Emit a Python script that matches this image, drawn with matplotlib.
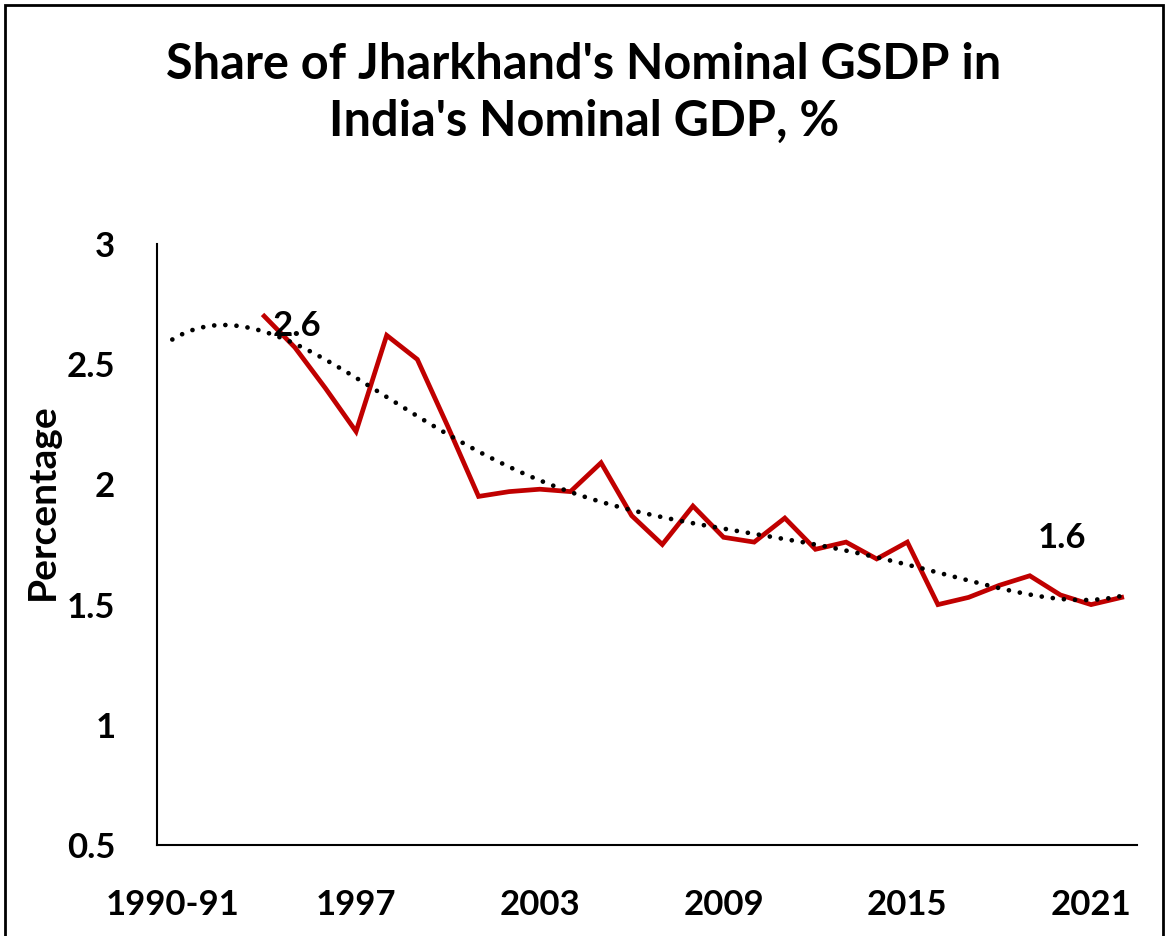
import numpy as np
import matplotlib
matplotlib.use("Agg")
import matplotlib.pyplot as plt
from matplotlib.patches import Rectangle

plt.rcParams['font.family'] = ['Lato', 'DejaVu Sans']
plt.rcParams['font.weight'] = 'bold'

# categories 1990-91 .. 2021-22, data starts in 1993-94
years = ["1990-91"] + [str(y) for y in range(1992, 2023)]
tick_pos = [0, 6, 12, 18, 24, 30]
tick_labels = ["1990-91", "1997", "2003", "2009", "2015", "2021"]

share = [None, None, None,
         2.70, 2.57, 2.40, 2.22, 2.62, 2.52, 2.24,
         1.95, 1.97, 1.98, 1.97, 2.09, 1.87, 1.75, 1.91,
         1.78, 1.76, 1.86, 1.73, 1.76, 1.69, 1.76,
         1.50, 1.53, 1.58, 1.62, 1.54, 1.50, 1.53]

idx = np.array([i for i, v in enumerate(share) if v is not None])
vals = np.array([v for v in share if v is not None])

# polynomial (order 5) trendline, drawn across the whole category range
coef = np.polyfit(idx, vals, 5)
xt = np.linspace(0, len(years) - 1, 300)
yt = np.polyval(coef, xt)

fig = plt.figure(figsize=(11.68, 9.36), dpi=100)
ax = fig.add_axes([157 / 1168, 1 - 845 / 936, (1137 - 157) / 1168, (845 - 244) / 936])

ax.plot(idx, vals, color="#C00000", lw=3.4, solid_joinstyle="miter", zorder=2)
ax.plot(xt, yt, color="black", lw=3.4, linestyle=(0, (0.01, 2.35)),
        dash_capstyle="round", zorder=3)

ax.annotate("2.6", xy=(idx[0], vals[0]), xytext=(6, -7), textcoords="offset points",
            ha="left", va="center", fontsize=25, fontweight="bold")
ax.annotate("1.6", xy=(28, share[28]), xytext=(23, 27), textcoords="offset points",
            ha="center", va="center", fontsize=25, fontweight="bold")

ax.set_xlim(-0.5, len(years) - 0.5)
ax.set_ylim(0.5, 3)
ax.set_xticks(tick_pos)
ax.set_xticklabels(tick_labels)
ax.set_yticks([0.5, 1, 1.5, 2, 2.5, 3])
ax.set_yticklabels(["0.5", "1", "1.5", "2", "2.5", "3"])
ax.tick_params(axis="both", length=0, labelsize=25)
ax.tick_params(axis="y", pad=30)
ax.tick_params(axis="x", pad=32)
for s in ["top", "right"]:
    ax.spines[s].set_visible(False)
for s in ["left", "bottom"]:
    ax.spines[s].set_linewidth(1.5)

fig.text(42 / 1168, 1 - 502 / 936, "Percentage", rotation=90, ha="center", va="center",
         fontsize=28, fontweight="bold")

fig.text(0.5, 1 - 93 / 936, "Share of Jharkhand's Nominal GSDP in\nIndia's Nominal GDP, %",
         ha="center", va="center", fontsize=35, fontweight="bold", linespacing=1.3)

fig.patches.append(Rectangle((5 / 1168, -0.01), 1 - 10 / 1168, 1 - 5 / 936 + 0.01,
                             transform=fig.transFigure, fill=False, lw=2, edgecolor="black"))

fig.savefig("out.png", dpi=100)
